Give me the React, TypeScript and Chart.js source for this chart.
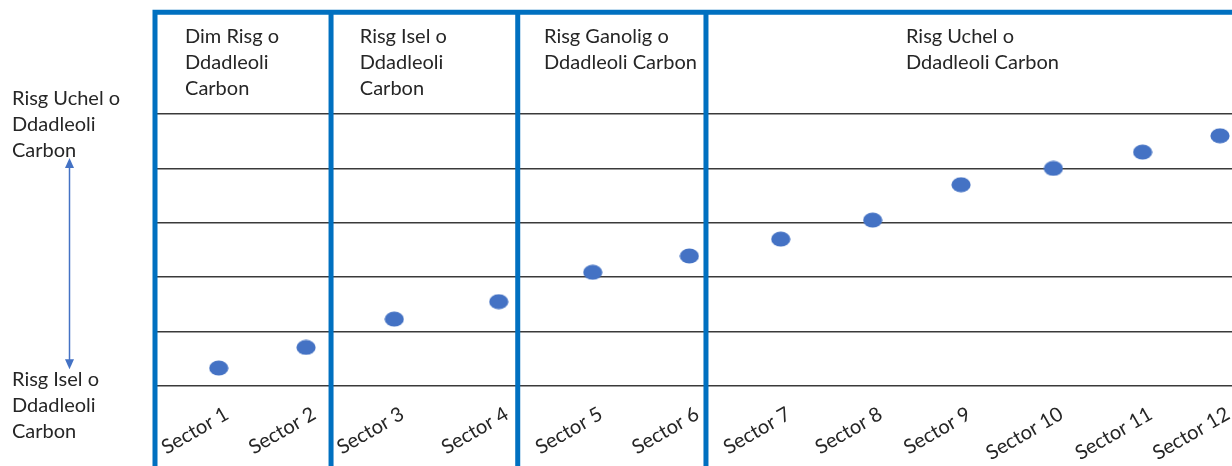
import { useEffect, useRef } from "react";
import { Chart, registerables } from "chart.js";

Chart.register(...registerables);

// ---- Data ----
const categories = [
  "Sector 1", "Sector 2", "Sector 3", "Sector 4", "Sector 5", "Sector 6",
  "Sector 7", "Sector 8", "Sector 9", "Sector 10", "Sector 11", "Sector 12",
];
// horizontal placement of each sector (in sector units)
const sectorX = [1.0, 1.959, 2.929, 4.076, 5.109, 6.17, 7.174, 8.184, 9.155, 10.17, 11.15, 12.0];
// risk level of each sector (grid units, 0 = bottom line)
const riskValues = [0.33, 0.71, 1.23, 1.55, 2.09, 2.39, 2.7, 3.05, 3.7, 4.0, 4.3, 4.6];
const yTicks = [0, 1, 2, 3, 4, 5];

// band dividers (x, sector units) and band titles
const dividers = [0.3, 2.234, 4.285, 6.353];
const bandTitleX = [0.63, 2.55, 4.574, 8.55];
const bandTitles = [
  ["Dim Risg o", "Ddadleoli", "Carbon"],
  ["Risg Isel o", "Ddadleoli", "Carbon"],
  ["Risg Ganolig o", "Ddadleoli Carbon"],
  ["Risg Uchel o", "Ddadleoli Carbon"],
];
const highLabel = ["Risg Uchel o", "Ddadleoli", "Carbon"];
const lowLabel = ["Risg Isel o", "Ddadleoli", "Carbon"];

const FRAME_TOP = 6.87; // y-value of the blue top rule
const HIGH_LABEL_Y = 5.28;
const LOW_LABEL_Y = 0.12;
const ARROW_TOP = 4.19;
const ARROW_BOTTOM = 0.31;

const FONT = "20px Lato";
const TEXT_COLOR = "#262626";
const BLUE = "#0070C0";
const DOT = "#4472C4";

export default function App() {
  const ref = useRef<HTMLCanvasElement | null>(null);

  useEffect(() => {
    if (!ref.current) return;

    const dot = document.createElement("canvas");
    dot.width = 20;
    dot.height = 16;
    const dctx = dot.getContext("2d")!;
    dctx.fillStyle = DOT;
    dctx.beginPath();
    dctx.ellipse(10, 8, 9.6, 7.6, 0, 0, Math.PI * 2);
    dctx.fill();

    const framePlugin = {
      id: "frame",
      beforeDatasetsDraw(chart: any) {
        const ctx = chart.ctx;
        const xs = chart.scales.x;
        const ys = chart.scales.y;
        const topPx = ys.getPixelForValue(FRAME_TOP);
        ctx.save();
        ctx.strokeStyle = BLUE;
        ctx.lineWidth = 5;
        ctx.beginPath();
        ctx.moveTo(xs.getPixelForValue(dividers[0]) - 2.5, topPx);
        ctx.lineTo(chart.width, topPx);
        for (const d of dividers) {
          const px = xs.getPixelForValue(d);
          ctx.moveTo(px, topPx - 2.5);
          ctx.lineTo(px, chart.height);
        }
        ctx.stroke();

        ctx.fillStyle = TEXT_COLOR;
        ctx.font = FONT;
        ctx.textAlign = "left";
        ctx.textBaseline = "middle";
        bandTitles.forEach((lines, i) => {
          const x = xs.getPixelForValue(bandTitleX[i]);
          lines.forEach((t, j) => ctx.fillText(t, x, topPx + 24.5 + j * 26));
        });

        const lh = 25.8;
        const hy = ys.getPixelForValue(HIGH_LABEL_Y);
        highLabel.forEach((t, j) => ctx.fillText(t, 12, hy + j * lh));
        const ly = ys.getPixelForValue(LOW_LABEL_Y);
        lowLabel.forEach((t, j) => ctx.fillText(t, 12, ly + j * lh));

        // double arrow
        const ax = 69.5;
        const at = ys.getPixelForValue(ARROW_TOP);
        const ab = ys.getPixelForValue(ARROW_BOTTOM);
        ctx.strokeStyle = DOT;
        ctx.fillStyle = DOT;
        ctx.lineWidth = 1.5;
        ctx.beginPath();
        ctx.moveTo(ax, at + 8);
        ctx.lineTo(ax, ab - 8);
        ctx.stroke();
        ctx.beginPath();
        ctx.moveTo(ax, at);
        ctx.lineTo(ax - 4.5, at + 10);
        ctx.lineTo(ax + 4.5, at + 10);
        ctx.closePath();
        ctx.fill();
        ctx.beginPath();
        ctx.moveTo(ax, ab);
        ctx.lineTo(ax - 4.5, ab - 10);
        ctx.lineTo(ax + 4.5, ab - 10);
        ctx.closePath();
        ctx.fill();
        ctx.restore();
      },
    };

    const chart = new Chart(ref.current, {
      type: "scatter",
      data: {
        datasets: [
          {
            data: sectorX.map((x, i) => ({ x, y: riskValues[i] })),
            pointStyle: dot as any,
            pointRadius: 10,
            backgroundColor: DOT,
            borderWidth: 0,
            clip: false as any,
          },
        ],
      },
      options: {
        animation: false,
        responsive: true,
        maintainAspectRatio: false,
        layout: { autoPadding: false, padding: { left: 155, top: 114, right: 0, bottom: 0 } },
        plugins: { legend: { display: false }, tooltip: { enabled: false } },
        scales: {
          x: {
            type: "linear",
            min: 0.3,
            max: 12.132,
            grid: { display: false },
            border: { display: false },
            afterBuildTicks: (s: any) => {
              s.ticks = sectorX.map((v) => ({ value: v }));
            },
            afterFit: (s: any) => {
              s.height = 80;
              s.paddingLeft = 0;
              s.paddingRight = 0;
            },
            ticks: {
              autoSkip: false,
              minRotation: 30,
              maxRotation: 30,
              padding: 8,
              labelOffset: 8,
              color: TEXT_COLOR,
              font: { family: "Lato", size: 20 },
              callback: (_v: any, i: number) => categories[i],
            },
          },
          y: {
            min: 0,
            max: 5,
            afterBuildTicks: (s: any) => {
              s.ticks = yTicks.map((v) => ({ value: v }));
            },
            afterFit: (s: any) => {
              s.width = 0;
              s.paddingTop = 0;
              s.paddingBottom = 0;
            },
            ticks: { display: false },
            border: { display: false },
            grid: { color: "#3a3a3a", lineWidth: 1.5, drawTicks: false },
          },
        },
      },
      plugins: [framePlugin],
    });
    return () => chart.destroy();
  }, []);

  return (
    <div style={{ position: "absolute", left: 0, top: 0, width: 1232, height: 466, background: "#fff" }}>
      <canvas ref={ref} />
    </div>
  );
}
